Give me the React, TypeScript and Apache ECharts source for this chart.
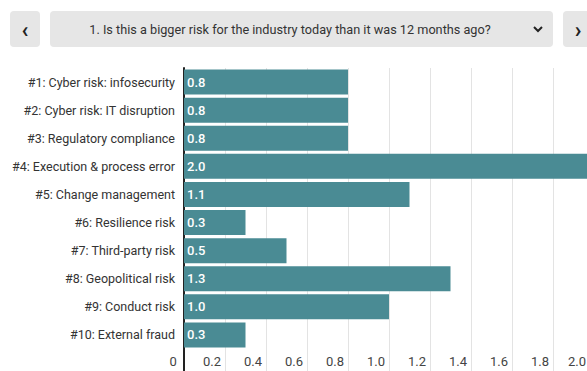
import React, { useEffect, useRef } from "react";
import * as echarts from "echarts";

const categories = [
  "#1: Cyber risk: infosecurity",
  "#2: Cyber risk: IT disruption",
  "#3: Regulatory compliance",
  "#4: Execution & process error",
  "#5: Change management",
  "#6: Resilience risk",
  "#7: Third-party risk",
  "#8: Geopolitical risk",
  "#9: Conduct risk",
  "#10: External fraud",
];
const values = [0.8, 0.8, 0.8, 2.0, 1.1, 0.3, 0.5, 1.3, 1.0, 0.3];
const questionText = "1. Is this a bigger risk for the industry today than it was 12 months ago?";
const xMin = 0;
const xMax = 2;
const xInterval = 0.2;

const FONT = "Roboto, 'Noto Sans', sans-serif";
const BTN = "#e6e6e6";

export default function App() {
  const ref = useRef<HTMLDivElement>(null);
  useEffect(() => {
    if (!ref.current) return;
    const chart = echarts.init(ref.current, null, { renderer: "svg" });
    const gridTop = 68;
    const gridH = 281;
    const option: any = {
      animation: false,
      backgroundColor: "#ffffff",
      grid: { left: 184, top: gridTop, width: 410, height: gridH, containLabel: false },
      xAxis: {
        type: "value",
        min: xMin,
        max: xMax,
        interval: xInterval,
        axisLine: { show: false },
        axisTick: { show: true, length: 23, lineStyle: { color: "#e3e3e3", width: 1 } },
        splitLine: { show: true, lineStyle: { color: "#e3e3e3", width: 1 } },
        axisLabel: {
          color: "#444",
          fontFamily: FONT,
          fontSize: 13,
          align: "right",
          margin: 6,
          padding: [0, 4, 0, 0],
          formatter: (v: number) => (v === 0 ? "0 " : v >= xMax ? "{last|" + v.toFixed(1) + "}" : v.toFixed(1)),
          rich: { last: { color: "#444", fontFamily: FONT, fontSize: 13, padding: [0, 4, 0, 0] } },
        },
      },
      yAxis: {
        type: "category",
        data: categories,
        inverse: true,
        axisLine: { show: true, lineStyle: { color: "#222", width: 2 } },
        axisTick: { show: false },
        axisLabel: { color: "#333", fontFamily: FONT, fontSize: 12.5, margin: 9 },
      },
      series: [
        {
          type: "bar",
          data: values,
          barWidth: 25,
          itemStyle: { color: "#4a8b94" },
          label: {
            show: true,
            position: "insideLeft",
            distance: 3,
            color: "#ffffff",
            fontFamily: FONT,
            fontSize: 13,
            fontWeight: 500,
            formatter: (p: any) => Number(p.value).toFixed(1),
          },
          z: 1,
        },
      ],
      graphic: [
        { type: "rect", shape: { x: 10, y: 11, width: 30, height: 36, r: 4 }, style: { fill: BTN } },
        { type: "text", x: 25, y: 29, style: { text: "‹", fontSize: 22, fontWeight: "bold", fill: "#222", align: "center", verticalAlign: "middle", fontFamily: FONT } },
        { type: "rect", shape: { x: 50, y: 11, width: 503, height: 36, r: 4 }, style: { fill: BTN } },
        { type: "text", x: 290, y: 29, style: { text: questionText, fontSize: 12.7, fill: "#333", align: "center", verticalAlign: "middle", fontFamily: FONT } },
        { type: "polyline", shape: { points: [[534, 27], [538, 31], [542, 27]] }, style: { stroke: "#222", lineWidth: 2, fill: null } },
        { type: "rect", shape: { x: 563, y: 11, width: 40, height: 36, r: 4 }, style: { fill: BTN } },
        { type: "text", x: 578, y: 29, style: { text: "›", fontSize: 22, fontWeight: "bold", fill: "#222", align: "center", verticalAlign: "middle", fontFamily: FONT } },
      ],
    };
    chart.setOption(option);
    const x0 = chart.convertToPixel({ gridIndex: 0 } as any, [0, 0]) as number[];
    chart.setOption({
      graphic: [
        ...option.graphic,
        { type: "line", shape: { x1: x0[0], y1: gridTop + gridH, x2: x0[0], y2: 371 }, style: { stroke: "#222", lineWidth: 2 }, z: 10 },
      ],
    });
    return () => chart.dispose();
  }, []);
  return (
    <div style={{ position: "fixed", left: 0, top: 0, width: 587, height: 371, overflow: "hidden", background: "#fff" }}>
      <div ref={ref} style={{ width: 620, height: 371 }} />
    </div>
  );
}
